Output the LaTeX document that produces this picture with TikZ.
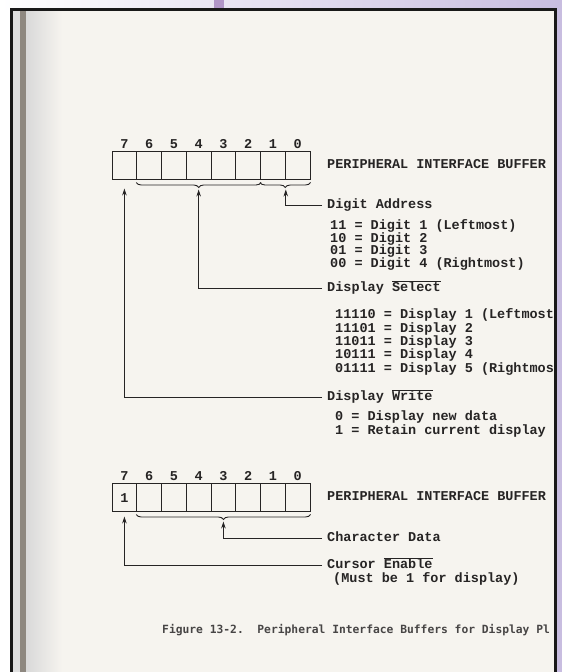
\documentclass[tikz,border=0pt]{standalone}
\usepackage{fontspec}
\setmonofont{Liberation Mono}
\newfontfamily\captionfont{DejaVu Sans Mono}
\usepackage{xcolor}
\definecolor{lavender}{RGB}{200, 189, 224}
\definecolor{plum}{RGB}{178, 150, 200}
\definecolor{paper}{RGB}{246, 244, 239}
\definecolor{ink}{RGB}{38, 36, 36}
\definecolor{spine}{RGB}{142, 136, 128}
\usepackage{tikz}
\usetikzlibrary{arrows.meta, calc, decorations.pathreplacing}

\newcommand{\ovl}[1]{$\overline{\hbox{#1}}$}

\begin{document}
\begin{tikzpicture}[x=1pt, y=1pt, >={Stealth[length=7pt, width=4.5pt]},
    cell/.style={draw=ink, line width=1pt, minimum width=24.75pt, minimum height=28pt, inner sep=0pt},
    txt/.style={font=\ttfamily\bfseries\fontsize{13.5}{14}\selectfont, text=ink, inner sep=0pt, anchor=base west},
    bitno/.style={txt, anchor=base},
    wire/.style={draw=ink, line width=0.9pt},
    brc/.style={wire, decorate, decoration={brace, mirror, amplitude=5pt, raise=2pt}}]
    \useasboundingbox (0,0) rectangle (562,672);

    % page, binding and frame
    \fill[white] (0,0) rectangle (562,672);
    \shade[left color=white, right color=lavender] (0,662) rectangle (562,672);
    \fill[lavender] (555,0) rectangle (562,672);
    \fill[plum] (214,662) rectangle (224,672);
    \fill[paper] (11,0) rectangle (555,662);
    \shade[left color=gray!30, right color=paper] (26,0) rectangle (62,662);
    \fill[gray!25] (12,0) rectangle (20,662);
    \fill[spine] (20,0) rectangle (26,662);

    \begin{scope}
    \clip (11,0) rectangle (554,662);

    % the two buffers
    \foreach \b [count=\i from 0] in {7,6,...,0} {
        \node[cell] (t\b) at ({124.4+24.75*\i},506) {};
        \node[bitno] (tn\b) at ($(t\b.north)+(0,3)$) {\b};
        \node[cell] (b\b) at ({124.4+24.75*\i},174) {};
        \node[bitno] (bn\b) at ($(b\b.north)+(0,3)$) {\b};
    }
    \node[txt, anchor=center] (one) at (b7) {1};
    \node[txt] (topname) at (327,503) {PERIPHERAL INTERFACE BUFFER};
    \node[txt] (botname) at (327,171) {PERIPHERAL INTERFACE BUFFER};

    \draw[brc] (t6.south west) -- (t2.south east);
    \draw[brc] (t1.south west) -- (t0.south east);
    \draw[brc] (b6.south west) -- (b0.south east);

    \coordinate (addrTip) at ($(t1.south east)+(0,-9)$);
    \coordinate (selTip) at ($(t4.south)+(0,-9)$);
    \coordinate (wrTip) at ($(t7.south)+(0,-8)$);
    \coordinate (dataTip) at ($(b3.south)+(0,-9)$);
    \coordinate (curTip) at ($(b7.south)+(0,-4)$);

    % top buffer fields
    \node[txt] (addr) at (327,463) {Digit Address};
    \foreach \row [count=\i from 0] in {11 = Digit 1 (Leftmost), 10 = Digit 2, 01 = Digit 3, 00 = Digit 4 (Rightmost)}
        \node[txt] (dig\i) at (330,{442-12.4*\i}) {\row};
    \node[txt] (sel) at (327,380) {Display \ovl{Select}};
    \foreach \row [count=\i from 0] in {11110 = Display 1 (Leftmost, 11101 = Display 2, 11011 = Display 3, 10111 = Display 4, 01111 = Display 5 (Rightmos}
        \node[txt] (disp\i) at (335,{353-13.3*\i}) {\row};
    \node[txt] (write) at (327,271) {Display \ovl{Write}};
    \node[txt] (newdata) at (335,251) {0 = Display new data};
    \node[txt] (retain) at (335,237.5) {1 = Retain current display};

    \draw[wire,->] ($(addr.base west)+(-5,4)$) -| (addrTip);
    \draw[wire,->] ($(sel.base west)+(-5,4)$) -| (selTip);
    \draw[wire,->] ($(write.base west)+(-5,4)$) -| (wrTip);

    % bottom buffer fields
    \node[txt] (chardata) at (327,130) {Character Data};
    \node[txt] (cursor) at (327,103) {Cursor \ovl{Enable}};
    \node[txt] (must) at (333,89.5) {(Must be 1 for display)};

    \draw[wire,->] ($(chardata.base west)+(-5,4)$) -| (dataTip);
    \draw[wire,->] ($(cursor.base west)+(-5,4)$) -| (curTip);

    \node[font=\captionfont\bfseries\fontsize{11.3}{12}\selectfont, text=ink!85, inner sep=0pt, anchor=base west]
        (caption) at (162,38) {Figure 13-2.\ \ Peripheral Interface Buffers for Display Pl};
    \end{scope}

    \draw[black!90, line width=3pt] (11.5,-2) -- (11.5,662.5) -- (555.5,662.5) -- (555.5,-2);
\end{tikzpicture}
\end{document}
